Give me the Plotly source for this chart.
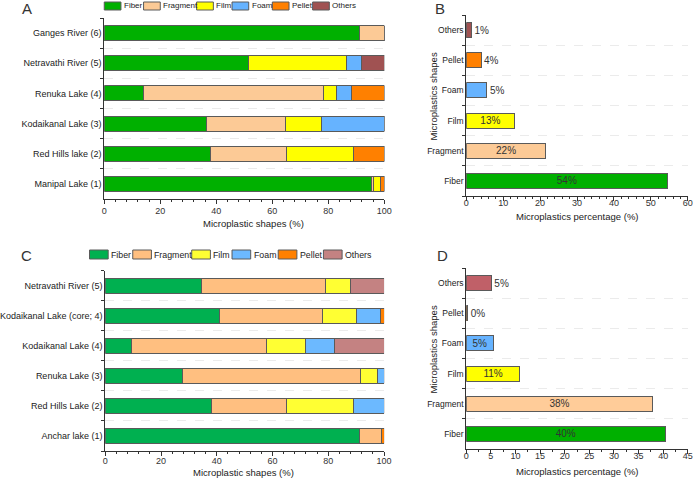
import plotly.graph_objects as go

# ---------------- data ----------------
shapes = ["Fiber", "Fragment", "Film", "Foam", "Pellet", "Others"]

# Panel A (bottom -> top)
sites_a = ["Manipal Lake (1)", "Red Hills lake (2)", "Kodaikanal Lake (3)",
           "Renuka Lake (4)", "Netravathi River (5)", "Ganges River (6)"]
fiber_a = [95.4, 37.9, 36.5, 14.1, 51.6, 91.0]
fragment_a = [0.8, 27.1, 28.3, 64.3, 0.0, 9.0]
film_a = [2.4, 23.9, 12.9, 4.6, 34.9, 0.0]
foam_a = [0.0, 0.0, 22.3, 5.4, 5.2, 0.0]
pellet_a = [1.4, 11.1, 0.0, 11.6, 0.0, 0.0]
others_a = [0.0, 0.0, 0.0, 0.0, 8.3, 0.0]

# Panel B
pct_b = [54.5, 21.6, 13.1, 5.6, 4.0, 1.4]
labels_b = ["54%", "22%", "13%", "5%", "4%", "1%"]

# Panel C (bottom -> top)
sites_c = ["Anchar lake (1)", "Red Hills Lake (2)", "Renuka Lake (3)",
           "Kodaikanal Lake (4)", "Kodaikanal Lake (core; 4)", "Netravathi River (5)"]
fiber_c = [91.2, 38.2, 27.7, 9.4, 41.1, 34.7]
fragment_c = [8.0, 26.9, 63.7, 48.6, 36.8, 44.4]
film_c = [0.0, 24.0, 6.2, 13.9, 12.1, 8.7]
foam_c = [0.0, 10.9, 2.4, 10.5, 8.8, 0.0]
pellet_c = [0.8, 0.0, 0.0, 0.0, 1.2, 0.0]
others_c = [0.0, 0.0, 0.0, 17.6, 0.0, 12.2]

# Panel D
pct_d = [40.4, 37.9, 10.9, 5.5, 0.3, 5.1]
labels_d = ["40%", "38%", "11%", "5%", "0%", "5%"]

# ---------------- styles ----------------
colors_a = ["#00B000", "#FCCA96", "#FFFF00", "#66B3FF", "#FF8000", "#A05252"]
colors_c = ["#00B050", "#FFBF80", "#FFFF33", "#6CB9FF", "#FF8000", "#C48282"]
colors_d = ["#00B000", "#FFCC99", "#FFFF00", "#66B3FF", "#FF8000", "#C06068"]
textpos_b = ["inside", "inside", "inside", "outside", "outside", "outside"]
textpos_d = ["inside", "inside", "inside", "inside", "outside", "outside"]

W, H = 700, 478
FONT = "Liberation Sans, Arial, sans-serif"
EDGE = "#5a5a5a"
AXC = "#333333"


def px(x):
    return x / W


def py(y):
    return 1 - y / H


fig = go.Figure()

series_a = [fiber_a, fragment_a, film_a, foam_a, pellet_a, others_a]
series_c = [fiber_c, fragment_c, film_c, foam_c, pellet_c, others_c]

for name, vals, col in zip(shapes, series_a, colors_a):
    fig.add_trace(go.Bar(x=vals, y=sites_a, orientation="h", name=name,
                         marker=dict(color=col, line=dict(color=EDGE, width=1)),
                         xaxis="x", yaxis="y", showlegend=False))

fig.add_trace(go.Bar(x=pct_b, y=shapes, orientation="h", text=labels_b,
                     textposition=textpos_b, insidetextanchor="middle",
                     constraintext="none", cliponaxis=False,
                     textfont=dict(size=10, color="#333", family=FONT),
                     marker=dict(color=colors_a, line=dict(color=EDGE, width=1)),
                     xaxis="x2", yaxis="y2", showlegend=False))

for name, vals, col in zip(shapes, series_c, colors_c):
    fig.add_trace(go.Bar(x=vals, y=sites_c, orientation="h", name=name,
                         marker=dict(color=col, line=dict(color=EDGE, width=1)),
                         xaxis="x3", yaxis="y3", showlegend=False))

fig.add_trace(go.Bar(x=pct_d, y=shapes, orientation="h", text=labels_d,
                     textposition=textpos_d, insidetextanchor="middle",
                     constraintext="none", cliponaxis=False,
                     textfont=dict(size=10, color="#333", family=FONT),
                     marker=dict(color=colors_d, line=dict(color=EDGE, width=1)),
                     xaxis="x4", yaxis="y4", showlegend=False))


def xax(domain, rng, dtick, mdtick, anchor, standoff=0):
    return dict(domain=domain, range=rng, dtick=dtick, anchor=anchor,
                showline=True, linecolor=AXC, linewidth=1, ticks="outside",
                ticklen=4, tickcolor=AXC, showgrid=False, zeroline=False,
                ticklabelstandoff=standoff,
                tickfont=dict(size=9, color="#333", family=FONT),
                minor=dict(dtick=mdtick, ticks="outside", ticklen=2, tickcolor=AXC))


def yax(domain, anchor, fs):
    return dict(domain=domain, anchor=anchor, type="category", range=[-0.5, 5.5],
                showline=True, linecolor=AXC, linewidth=1, ticks="outside",
                ticklen=3, tickcolor=AXC, tickson="boundaries",
                showgrid=True, gridcolor="#EBEBEB", griddash="dash", gridwidth=1,
                tickfont=dict(size=fs, color="#222", family=FONT))


fig.update_layout(
    width=W, height=H, margin=dict(l=0, r=0, t=0, b=0),
    paper_bgcolor="white", plot_bgcolor="white",
    barmode="stack", bargap=0.5,
    font=dict(family=FONT, color="#222"),
    xaxis=xax([px(102), px(387)], [0, 100], 20, 4, "y", -1),
    yaxis=yax([py(199), py(18)], "x", 9),
    xaxis2=xax([px(470.3), px(695.7)], [0, 60], 10, 2, "y2", -6),
    yaxis2=yax([py(196), py(15)], "x2", 8.5),
    xaxis3=xax([px(103), px(386.7)], [0, 100], 20, 4, "y3", -3),
    yaxis3=yax([py(451), py(270.6)], "x3", 9),
    xaxis4=xax([px(470.3), px(695.7)], [0, 45], 5, 2.5, "y4", -6),
    yaxis4=yax([py(449), py(268)], "x4", 8.5),
)

ann = []
shp = []


def text(x, y, s, size, xanchor="center", angle=0, color="#222"):
    ann.append(dict(x=px(x), y=py(y), xref="paper", yref="paper", text=s,
                    showarrow=False, xanchor=xanchor, yanchor="middle",
                    textangle=angle, borderpad=0,
                    font=dict(size=size, color=color, family=FONT)))


# panel letters
text(23, 8, "A", 15, color="#333")
text(444, 8, "B", 15, color="#333")
text(23, 256, "C", 15, color="#333")
text(446, 256, "D", 15, color="#333")

# axis titles
text(254, 223, "Microplastic shapes (%)", 9.5)
text(583, 216, "Microplastics percentage (%)", 9.5)
text(244, 472.5, "Microplastic shapes (%)", 9.5)
text(583, 471, "Microplastics percentage (%)", 9.5)
text(436, 97, "Microplastics shapes", 9.5, angle=-90)
text(436, 350, "Microplastics shapes", 9.5, angle=-90)

# manual legends
leg_a_x = [102, 142, 196, 232, 273, 314]
leg_c_x = [87, 131, 191, 232, 279, 325]
for names, cols, xs, bw, bh, cy, fs in [
        (shapes, colors_a, leg_a_x, 17, 8, 6, 8),
        (shapes, colors_c, leg_c_x, 19, 9, 254.5, 8.8)]:
    for nm, col, x0 in zip(names, cols, xs):
        shp.append(dict(type="rect", xref="paper", yref="paper",
                        x0=px(x0), x1=px(x0 + bw), y0=py(cy + bh / 2), y1=py(cy - bh / 2),
                        fillcolor=col, line=dict(color=EDGE, width=1)))
        text(x0 + bw + 2, cy, nm, fs, xanchor="left")

fig.update_layout(annotations=ann, shapes=shp)
fig.write_html("out.html", config={"displayModeBar": False},
               post_script="document.body.style.margin='0';document.body.style.padding='0';")
